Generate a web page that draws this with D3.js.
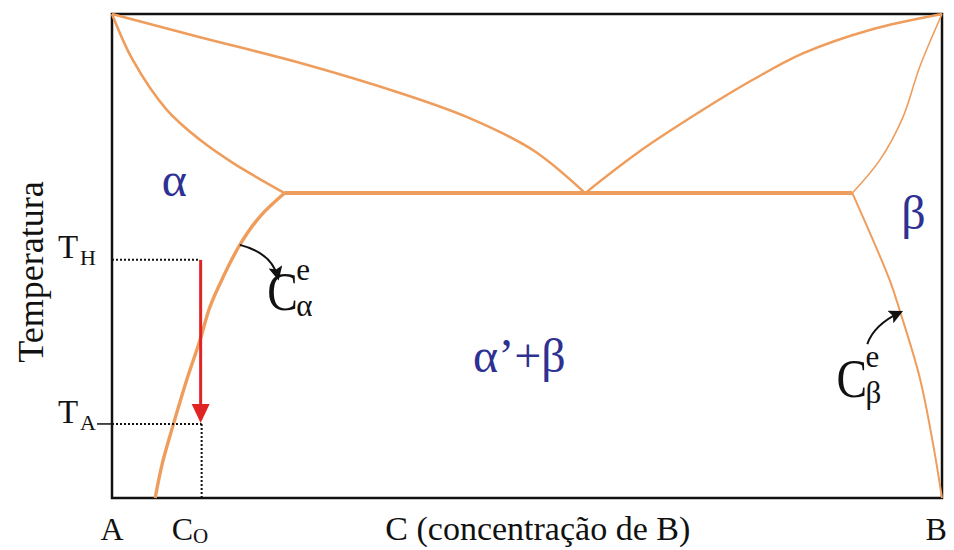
<!DOCTYPE html>
<html>
<head>
<meta charset="utf-8">
<script src="https://cdn.jsdelivr.net/npm/d3@7"></script>
<style>
  body { margin: 0; background: #fff; }
  svg text { font-family: "Liberation Serif", "Times New Roman", serif; }
</style>
</head>
<body>
<div id="chart"></div>
<script>
// composition (% B) vs temperature (arbitrary, 0-100)
const liquidusLeft = [[0,100],[10.6,95.2],[22.7,89.9],[34.7,83.7],[42.8,78.7],[50.7,71.9],[57.0,63.0]];
const liquidusRight = [[57.0,63.0],[63.3,71.3],[71.2,80.2],[77.2,86.4],[83.3,91.9],[91.3,96.7],[100,100]];
const solidusLeft = [[0,100],[2.5,90.5],[6.6,80.2],[10.6,74.0],[14.6,69.2],[20.8,63.0]];
const solidusRight = [[100,100],[97.3,89.0],[95.3,78.7],[92.5,69.8],[89.2,63.0]];
const solvusLeft = [[20.8,63.0],[17.8,58.1],[15.4,52.3],[13.4,45.7],[11.8,39.5],[10.6,32.6],[9.0,24.4],[7.3,14.7],[6.1,7.4],[5.2,0]];
const solvusRight = [[89.2,63.0],[93.7,45.0],[94.9,38.8],[97.3,25.0],[98.9,11.4],[100,0]];
const eutectic = [[20.8,63.0],[89.2,63.0]];

const C0 = 10.8;
const TH = 49.2;
const TA = 15.3;

const phaseLabels = [
  { text: "α", x: 6.0, y: 62.5 },
  { text: "β", x: 95.1, y: 55.5 },
  { text: "α’+β", x: 43.5, y: 26.0 }
];
const xLabels = [
  { main: "A", sub: "", x: 0 },
  { main: "C", sub: "O", x: C0 - 3.6 },
  { main: "B", sub: "", x: 99.3 }
];

const width = 954, height = 550;
const margin = { top: 14, right: 12, bottom: 52, left: 112 };

const svg = d3.select("#chart").append("svg")
  .attr("width", width)
  .attr("height", height);

const x = d3.scaleLinear().domain([0, 100]).range([margin.left, width - margin.right]);
const y = d3.scaleLinear().domain([0, 100]).range([height - margin.bottom, margin.top]);

const orange = "#EF9D5C";
const blue = "#2E3192";

const line = d3.line()
  .x(d => x(d[0]))
  .y(d => y(d[1]))
  .curve(d3.curveCatmullRom.alpha(0.5));

// frame
svg.append("rect")
  .attr("x", x(0)).attr("y", y(100))
  .attr("width", x(100) - x(0)).attr("height", y(0) - y(100))
  .attr("fill", "none")
  .attr("stroke", "#111")
  .attr("stroke-width", 2.5);

const curves = [
  { data: liquidusLeft, w: 2.6 },
  { data: liquidusRight, w: 2.4 },
  { data: solidusLeft, w: 2.6 },
  { data: solidusRight, w: 1.6 },
  { data: solvusLeft, w: 3.4 },
  { data: solvusRight, w: 2.0 },
  { data: eutectic, w: 4 }
];

svg.selectAll(".phase-line")
  .data(curves)
  .enter()
  .append("path")
  .attr("class", "phase-line")
  .attr("d", d => line(d.data))
  .attr("fill", "none")
  .attr("stroke", orange)
  .attr("stroke-width", d => d.w)
  .attr("stroke-linejoin", "round");

// dotted guides
const dotted = [
  [[0, TH], [C0 - 0.2, TH]],
  [[0, TA], [C0, TA]],
  [[C0, TA], [C0, 0]]
];
svg.selectAll(".guide")
  .data(dotted)
  .enter()
  .append("line")
  .attr("class", "guide")
  .attr("x1", d => x(d[0][0])).attr("y1", d => y(d[0][1]))
  .attr("x2", d => x(d[1][0])).attr("y2", d => y(d[1][1]))
  .attr("stroke", "#111")
  .attr("stroke-width", 2)
  .attr("stroke-dasharray", "2,2");

// small tick at T_A
svg.append("line")
  .attr("x1", x(0) - 15).attr("x2", x(0))
  .attr("y1", y(TA)).attr("y2", y(TA))
  .attr("stroke", "#111").attr("stroke-width", 1.5);

// red cooling arrow
const ax = x(C0) - 1;
svg.append("line")
  .attr("x1", ax).attr("x2", ax)
  .attr("y1", y(TH)).attr("y2", y(TA) - 18)
  .attr("stroke", "#E02424")
  .attr("stroke-width", 3);
svg.append("path")
  .attr("d", `M${ax - 9},${y(TA) - 20} L${ax + 9},${y(TA) - 20} L${ax},${y(TA) - 1} Z`)
  .attr("fill", "#E02424");

// black curved arrows
svg.append("defs").append("marker")
  .attr("id", "head")
  .attr("viewBox", "0 0 10 10")
  .attr("refX", 8).attr("refY", 5)
  .attr("markerWidth", 14).attr("markerHeight", 14)
  .attr("markerUnits", "userSpaceOnUse")
  .attr("orient", "auto")
  .append("path")
  .attr("d", "M0,0 L10,5 L0,10 L2,5 Z")
  .attr("fill", "#111");

const annArrows = [
  { from: [15.4, 52.3], ctrl: [19.3, 50.6], to: [20.0, 45.5] },
  { from: [91.0, 31.8], ctrl: [91.8, 35.8], to: [95.0, 38.4] }
];
svg.selectAll(".ann")
  .data(annArrows)
  .enter()
  .append("path")
  .attr("class", "ann")
  .attr("d", d => {
    const p = d3.path();
    p.moveTo(x(d.from[0]), y(d.from[1]));
    p.quadraticCurveTo(x(d.ctrl[0]), y(d.ctrl[1]), x(d.to[0]), y(d.to[1]));
    return p.toString();
  })
  .attr("fill", "none")
  .attr("stroke", "#111")
  .attr("stroke-width", 2)
  .attr("marker-end", "url(#head)");

// C^e labels
const ceLabels = [
  { sub: "α", x: 18.7, y: 38.8 },
  { sub: "β", x: 87.3, y: 20.8 }
];
ceLabels.forEach(d => {
  const g = svg.append("g").attr("transform", `translate(${x(d.x)},${y(d.y)})`);
  g.append("text").attr("x", 0).attr("y", 0)
    .attr("font-size", 54).attr("fill", "#111")
    .attr("transform", "scale(0.85,1)")
    .text("C");
  g.append("text").attr("x", 29).attr("y", -30)
    .attr("font-size", 31).attr("fill", "#111").text("e");
  g.append("text").attr("x", 29).attr("y", 6)
    .attr("font-size", 31).attr("fill", "#111").text(d.sub);
});

// phase labels
svg.selectAll(".phase")
  .data(phaseLabels)
  .enter()
  .append("text")
  .attr("class", "phase")
  .attr("x", d => x(d.x))
  .attr("y", d => y(d.y))
  .attr("font-size", 48)
  .attr("fill", blue)
  .text(d => d.text);

// temperature labels
const tLabels = [
  { sub: "H", t: TH, dy: -2 },
  { sub: "A", t: TA, dy: -1 }
];
tLabels.forEach(d => {
  svg.append("text")
    .attr("x", 58).attr("y", y(d.t) + d.dy)
    .attr("font-size", 33).attr("fill", "#111")
    .text("T");
  svg.append("text")
    .attr("x", 80).attr("y", y(d.t) + d.dy + 7)
    .attr("font-size", 22).attr("fill", "#111")
    .text(d.sub);
});

// x labels
xLabels.forEach(d => {
  const t = svg.append("text")
    .attr("x", x(d.x))
    .attr("y", 540)
    .attr("font-size", 32)
    .attr("fill", "#111")
    .attr("text-anchor", d.sub ? "start" : "middle");
  t.append("tspan").text(d.main);
  if (d.sub) t.append("tspan").attr("font-size", 21).attr("dy", 3).text(d.sub);
});

svg.append("text")
  .attr("x", x(51.3))
  .attr("y", 540)
  .attr("font-size", 34)
  .attr("fill", "#111")
  .attr("text-anchor", "middle")
  .text("C (concentração de B)");

svg.append("text")
  .attr("transform", `translate(43,${y(50) + 16}) rotate(-90)`)
  .attr("font-size", 36)
  .attr("fill", "#111")
  .attr("text-anchor", "middle")
  .text("Temperatura");
</script>
</body>
</html>
